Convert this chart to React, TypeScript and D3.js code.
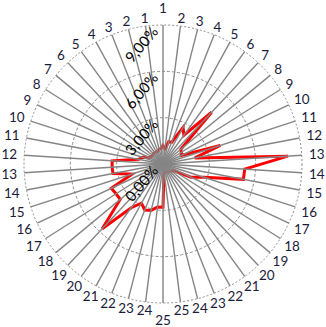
import React from "react";
import * as d3 from "d3";

const categories: string[] = [
  "1","2","3","4","5","6","7","8","9","10","11","12","13","14","15","16","17","18","19","20","21","22","23","24","25",
  "25","24","23","22","21","20","19","18","17","16","15","14","13","12","11","10","9","8","7","6","5","4","3","2","1",
];

const seriesValues: number[] = [
  1.2, 1.0, 1.5, 1.5, 2.7, 2.3, 4.6, 1.5, 1.4, 1.3,
  3.9, 2.1, 8.1, 5.3, 5.3, 2.8, 2.0, 0.8, 0.7, 0.6,
  0.6, 0.6, 0.6, 0.6, 0.5, 2.8, 2.8, 3.1, 3.2, 2.9,
  3.5, 5.75, 3.6, 3.6, 3.7, 2.1, 3.3, 3.3, 3.3, 1.6,
  1.4, 1.0, 0.9, 0.9, 0.9, 0.9, 0.9, 0.9, 1.0, 1.0,
];

const tickValues: number[] = [0, 3, 6, 9];
const tickLabels: string[] = ["0,00%", "3,00%", "6,00%", "9,00%"];

export default function App() {
  const W = 326, H = 327;
  const cx = 163, cy = 164, R = 139;
  const n = categories.length;
  const angle = d3.scaleLinear().domain([0, n]).range([0, 2 * Math.PI]);
  const r = d3.scaleLinear().domain([0, 9]).range([0, R]);

  const line = d3
    .lineRadial<number>()
    .angle((_, i) => angle(i))
    .radius((d) => r(d))
    .curve(d3.curveLinearClosed);

  const font = "Lato, 'Liberation Sans', sans-serif";

  return (
    <svg width={W} height={H} style={{ position: "absolute", left: 0, top: 0, background: "#fff" }}>
      <g transform={`translate(${cx},${cy})`}>
        {tickValues.filter((t) => t > 0).map((t, i) => (
          <circle key={"c" + i} r={r(t)} fill="none" stroke="#8c8c8c" strokeWidth={1}
            strokeDasharray={t === 9 ? "2,2" : "3,2"} />
        ))}
        <path d={line(seriesValues) || ""} fill="none" stroke="#ff0000" strokeWidth={3} strokeLinejoin="miter" />
        {categories.map((_, i) => {
          const a = angle(i);
          return (
            <line key={"s" + i} x1={0} y1={0} x2={R * Math.sin(a)} y2={-R * Math.cos(a)}
              stroke="#858585" strokeWidth={1.4} />
          );
        })}
        {categories.map((c, i) => {
          const a = angle(i);
          const hw = c.length * 3.8;
          const s = Math.abs(Math.sin(a));
          const d = s < 0.01 ? R + 17 : R + 7.5 + hw * s;
          return (
            <text key={"l" + i} x={d * Math.sin(a)} y={-d * Math.cos(a)} textAnchor="middle"
              dominantBaseline="central" fontFamily={font} fontSize={13.5} fill="#1b1b3a">
              {c}
            </text>
          );
        })}
        {tickValues.map((t, i) => (
          <text key={"t" + i} transform={`translate(${-4},${-r(t) + 7}) rotate(-50)`} textAnchor="end"
            fontFamily={font} fontSize={15} fill="#000">
            {tickLabels[i]}
          </text>
        ))}
      </g>
    </svg>
  );
}
